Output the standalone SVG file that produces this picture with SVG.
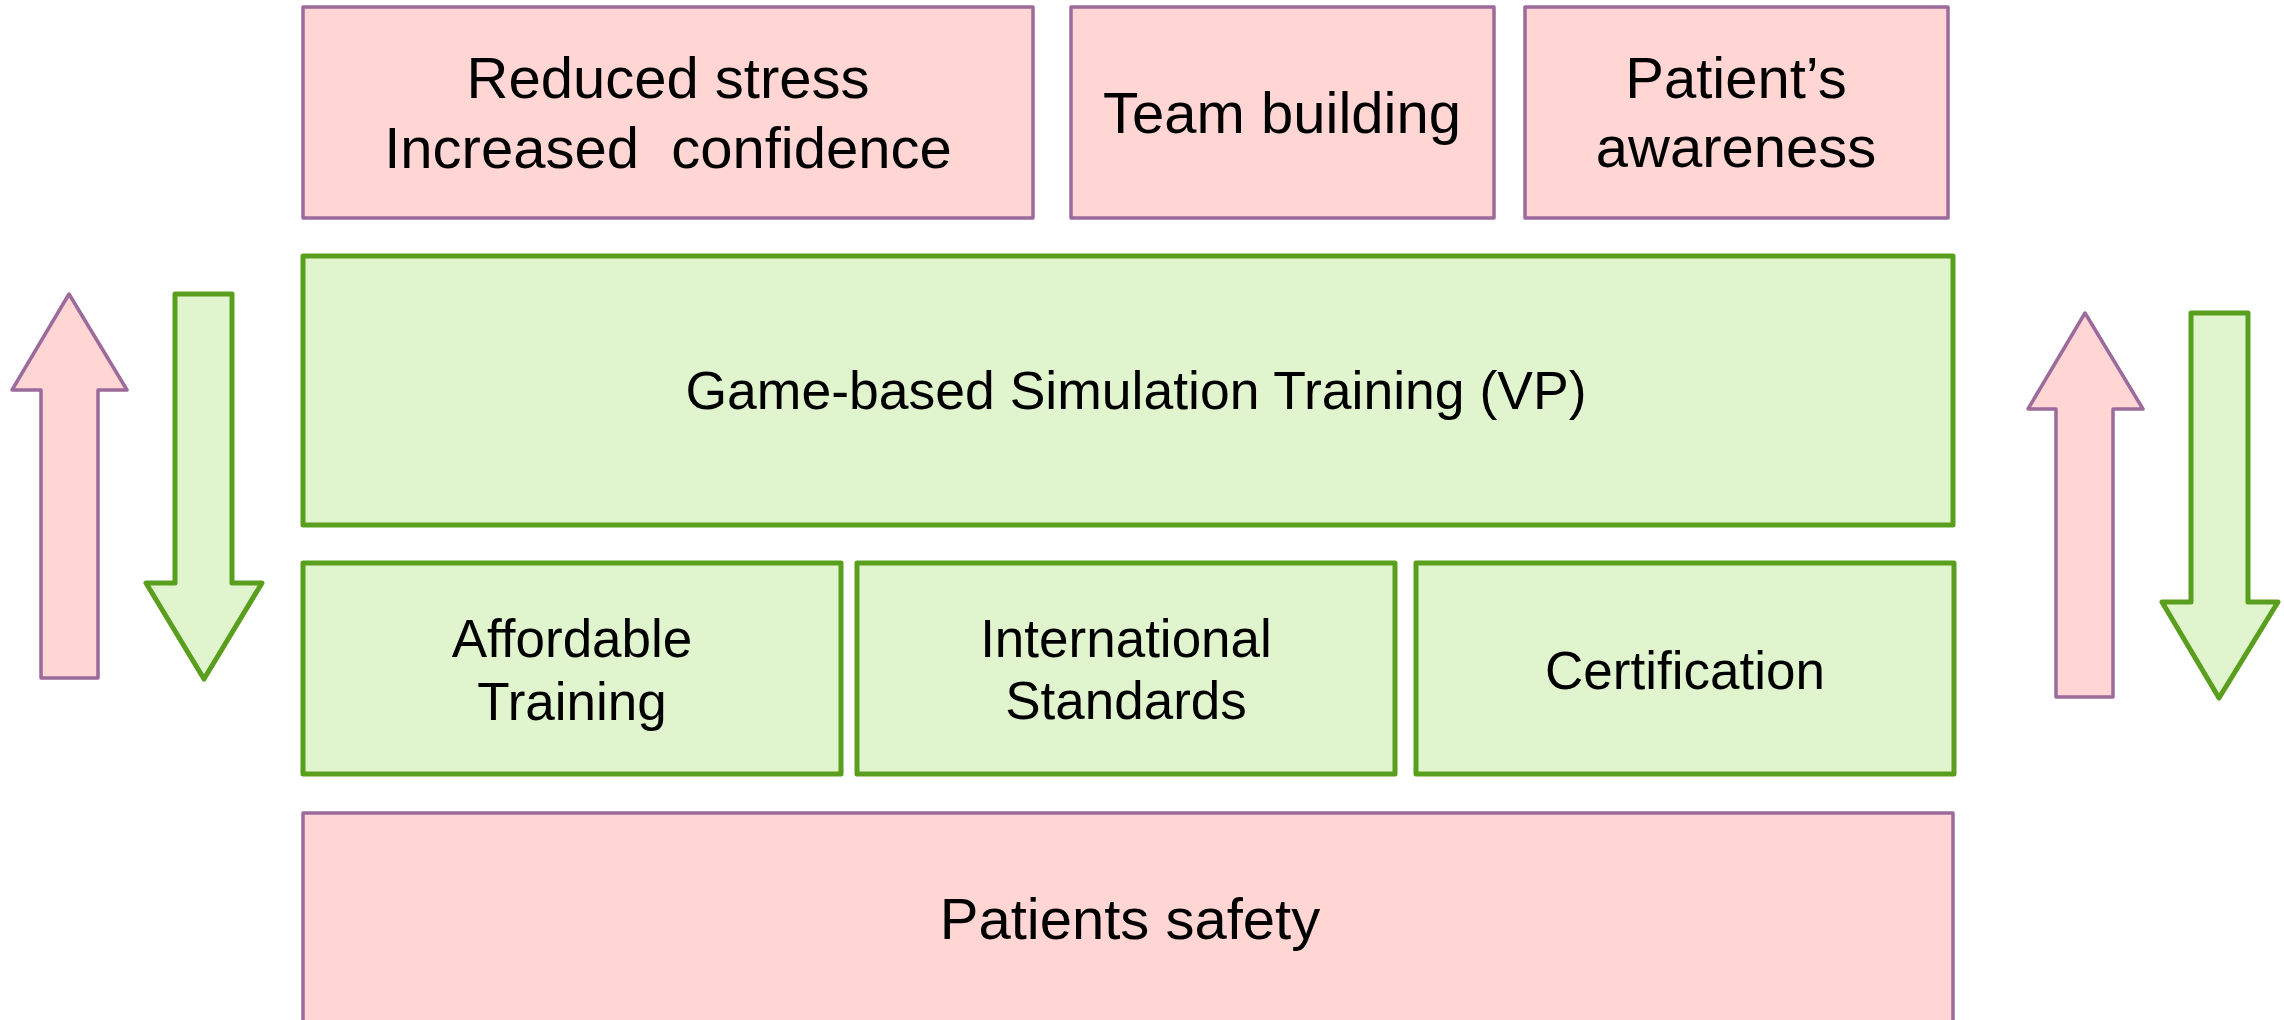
<svg xmlns="http://www.w3.org/2000/svg" width="2284" height="1020" viewBox="0 0 2284 1020">
<style>
.pink{fill:#ffd6d4;stroke:#9c6b9c;stroke-width:3.5;stroke-linejoin:round}
.green{fill:#e0f4cd;stroke:#5a9e1e;stroke-width:5;stroke-linejoin:round}
text{font-family:"Liberation Sans",Arial,sans-serif;fill:#000;text-anchor:middle}
.t57{font-size:58px}
.t53{font-size:53px}
.t535{font-size:53.5px}
</style>
<rect x="0" y="0" width="2284" height="1020" fill="#ffffff"/>
<g id="reduced-stress">
<rect class="pink" x="303" y="7" width="730" height="211"/>
<text class="t57" x="668" y="98">Reduced stress</text>
<text class="t57" x="668" y="168" xml:space="preserve">Increased  confidence</text>
</g>
<g id="team-building">
<rect class="pink" x="1071" y="7" width="423" height="211"/>
<text class="t57" x="1282" y="133">Team building</text>
</g>
<g id="patients-awareness">
<rect class="pink" x="1525" y="7" width="423" height="211"/>
<text class="t57" x="1736" y="98">Patient’s</text>
<text class="t57" x="1736" y="167">awareness</text>
</g>
<g id="game-based">
<rect class="green" x="303" y="256" width="1650" height="269"/>
<text class="t535" x="1136" y="409">Game-based Simulation Training (VP)</text>
</g>
<g id="affordable">
<rect class="green" x="303" y="563" width="538" height="211"/>
<text class="t53" x="572" y="657">Affordable</text>
<text class="t53" x="572" y="720">Training</text>
</g>
<g id="international">
<rect class="green" x="857" y="563" width="538" height="211"/>
<text class="t53" x="1126" y="657">International</text>
<text class="t53" x="1126" y="719">Standards</text>
</g>
<g id="certification">
<rect class="green" x="1416" y="563" width="538" height="211"/>
<text class="t53" x="1685" y="689">Certification</text>
</g>
<g id="patients-safety">
<rect class="pink" x="303" y="813" width="1650" height="230"/>
<text class="t57" x="1130" y="939">Patients safety</text>
</g>
<g id="connectors">
<polygon class="pink" points="69,294 127,390 98,390 98,678 41,678 41,390 12,390"/>
<polygon class="green" points="175,294 232,294 232,583 262,583 204,679 146,583 175,583"/>
<polygon class="pink" points="2085,313 2143,409 2113,409 2113,697 2056,697 2056,409 2028,409"/>
<polygon class="green" points="2191,313 2248,313 2248,602 2278,602 2219,698 2162,602 2191,602"/>
</g>
</svg>
